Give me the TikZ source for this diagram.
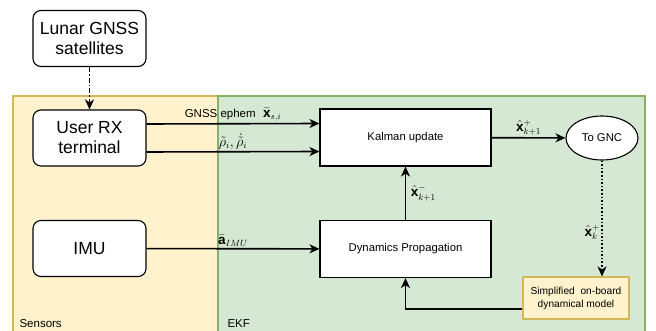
\documentclass[tikz,border=0pt]{standalone}
\usepackage{amsmath}
\usepackage{amssymb}
\usepackage{fontspec}
\setmainfont{Liberation Sans}
\usepackage{tikz}
\usetikzlibrary{arrows.meta,shapes,positioning}
\usepackage{xcolor}
\definecolor{sensfill}{HTML}{FFF2CC}
\definecolor{sensline}{HTML}{D6B656}
\definecolor{ekffill}{HTML}{D5E8D4}
\definecolor{ekfline}{HTML}{82B366}

\begin{document}
\begin{tikzpicture}[x=1pt,y=-1pt]
\tikzstyle{every path}=[line width=1.1pt]
\tikzstyle{bigbox}=[draw,fill=white,rounded corners=8pt,minimum width=113pt,minimum height=56pt,align=center,font=\fontsize{17.5}{20}\selectfont]
\tikzstyle{ekfbox}=[draw,fill=white,minimum width=171pt,minimum height=57pt,font=\fontsize{11.3}{13}\selectfont]
\tikzstyle{flow}=[-{Stealth[length=10pt,width=9pt,inset=3pt]},line width=1.6pt]
\tikzstyle{lbl}=[font=\fontsize{11.5}{13}\selectfont,inner sep=2pt]
\tikzstyle{mlbl}=[font=\fontsize{13.5}{15}\selectfont,inner sep=1.5pt]

\useasboundingbox (0,0) rectangle (656,331);

% regions
\draw[fill=sensfill,draw=sensline] (13,96) rectangle (218,345);
\draw[fill=ekffill,draw=ekfline] (218,96) rectangle (645,345);
\node[lbl,anchor=south west] (senstxt) at (17,330) {Sensors};
\node[lbl,anchor=south west] (ekftxt) at (225,330) {EKF};

% blocks
\node[bigbox] (moon) at (89.5,38.5) {Lunar GNSS\\satellites};
\node[bigbox] (rx) at (89.5,138) {User RX\\terminal};
\node[bigbox] (imu) at (89.5,248.5) {IMU};
\node[ekfbox] (kal) at (405.5,137.5) {Kalman update};
\node[ekfbox] (dyn) at (405.5,249) {Dynamics Propagation};
\node[draw,ellipse,fill=white,minimum width=72pt,minimum height=44pt,font=\fontsize{11.3}{13}\selectfont] (gnc) at (602,138) {To GNC};
\node[draw=sensline,fill=sensfill,minimum width=106pt,minimum height=42pt,align=center,font=\fontsize{10.2}{13}\selectfont] (model) at (576,298) {Simplified\ \ on-board\\dynamical model};

% links
\draw[flow,dash pattern=on 5pt off 2pt on 1.5pt off 2pt] (moon) -- (rx);
\draw[flow] ([yshift=14pt]rx.east) -- node[mlbl,midway,above] {{\fontsize{11.5}{13}\selectfont GNSS ephem} \ $\bar{\mathbf{x}}_{s,i}$} ([yshift=14pt]kal.west);
\draw[flow] ([yshift=-14pt]rx.east) -- node[mlbl,midway,above] {$\tilde{\rho}_i,\dot{\tilde{\rho}}_i$} ([yshift=-14pt]kal.west);
\draw[flow] (imu) -- node[mlbl,midway,above] {$\bar{\mathbf{a}}_{IMU}$} (dyn);
\draw[flow] (dyn) -- node[mlbl,midway,right,xshift=3pt] {$\hat{\mathbf{x}}^-_{k+1}$} (kal);
\draw[flow] (kal) -- node[mlbl,midway,above] {$\hat{\mathbf{x}}^+_{k+1}$} (gnc);
\draw[flow,dotted] (gnc.south) -- node[mlbl,pos=0.62,left] {$\hat{\mathbf{x}}^+_{k}$} (gnc.south |- model.north);
\draw[flow] ([yshift=-11pt]model.west) -| (dyn.south);
\end{tikzpicture}
\end{document}
